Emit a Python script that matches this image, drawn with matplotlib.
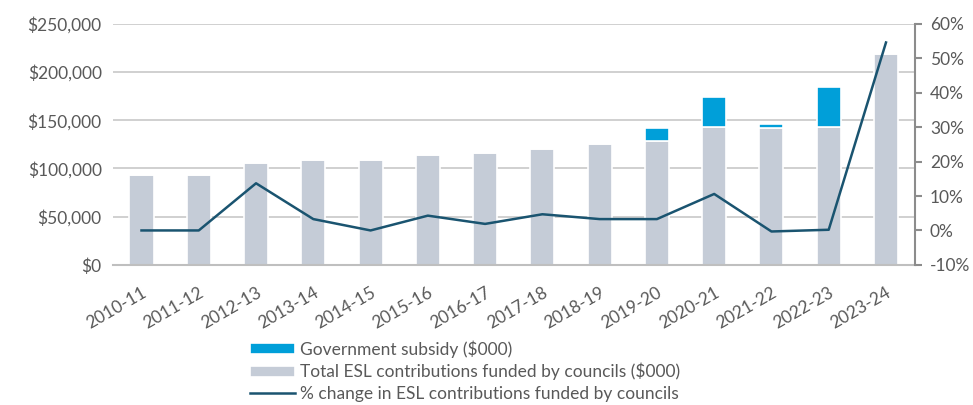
import matplotlib
matplotlib.use('Agg')
import matplotlib.pyplot as plt
import matplotlib.ticker as mticker
import numpy as np

# Données ESL par année financière
annees = ['2010-11', '2011-12', '2012-13', '2013-14', '2014-15', '2015-16', '2016-17',
          '2017-18', '2018-19', '2019-20', '2020-21', '2021-22', '2022-23', '2023-24']
conseils = [93000, 93000, 105500, 108600, 108600, 113800, 115900,
            120300, 125200, 129000, 143200, 142100, 143500, 219200]  # $000
subvention = [0, 0, 0, 0, 0, 0, 0, 0, 0, 13400, 31400, 4200, 41500, 0]  # $000
variation = [0.0, 0.0, 13.7, 3.3, 0.0, 4.3, 1.9, 4.7, 3.3, 3.3, 10.6, -0.3, 0.2, 54.6]  # %

gris = '#C5CCD7'
bleu = '#009FD9'
ligne = '#1A5470'
texte = '#595959'

plt.rcParams['font.family'] = ['Lato', 'DejaVu Sans']

fig = plt.figure(figsize=(9.73, 4.05), dpi=100)
ax = fig.add_axes([0.116, 0.346, 0.824, 0.595])
x = np.arange(len(annees))

# Barres empilées
b1 = ax.bar(x, conseils, width=0.42, color=gris, edgecolor='white', linewidth=1.2, zorder=2,
            label='Total ESL contributions funded by councils ($000)')
b2 = ax.bar(x, subvention, bottom=conseils, width=0.42, color=bleu, edgecolor='white',
            linewidth=1.2, zorder=2, label='Government subsidy ($000)')

ax.set_ylim(0, 250000)
ax.set_xlim(-0.5, len(annees) - 0.5)
ax.yaxis.set_major_locator(mticker.MultipleLocator(50000))
ax.yaxis.set_major_formatter(mticker.FuncFormatter(lambda v, p: '${:,.0f}'.format(v)))
ax.grid(axis='y', color='#C8C8C8', linewidth=1.2, zorder=0)
ax.set_axisbelow(True)
for s in ['top', 'left', 'right']:
    ax.spines[s].set_visible(False)
ax.spines['bottom'].set_color('#BFBFBF')
ax.spines['bottom'].set_linewidth(1.5)
ax.tick_params(axis='y', length=0, labelsize=12.5, labelcolor=texte, pad=8)
ax.tick_params(axis='x', length=0, labelsize=12.5, labelcolor=texte, pad=14)
ax.set_xticks(x)
ax.set_xticklabels(annees, rotation=30, ha='right', rotation_mode='anchor')

# Axe secondaire pour le pourcentage
ax2 = ax.twinx()
l1, = ax2.plot(x, variation, color=ligne, linewidth=1.8, zorder=3,
               label='% change in ESL contributions funded by councils')
ax2.set_ylim(-10, 60)
ax2.yaxis.set_major_locator(mticker.MultipleLocator(10))
ax2.yaxis.set_major_formatter(mticker.FuncFormatter(lambda v, p: '{:.0f}%'.format(v)))
for s in ['top', 'left', 'bottom']:
    ax2.spines[s].set_visible(False)
ax2.spines['right'].set_color('#8C8C8C')
ax2.spines['right'].set_linewidth(1.5)
ax2.tick_params(axis='y', length=5, width=1.5, color='#8C8C8C', labelsize=12.5,
                labelcolor=texte, pad=6)

# Légende sous le graphique
leg = fig.legend([b2, b1, l1], [b2.get_label(), b1.get_label(), l1.get_label()],
                 loc='upper left', bbox_to_anchor=(0.257, 0.16), frameon=False,
                 fontsize=12.5, labelcolor=texte, handlelength=2.6, handleheight=0.6,
                 handletextpad=0.25, labelspacing=0.3, borderpad=0, borderaxespad=0)

fig.savefig('out.png', dpi=100)
